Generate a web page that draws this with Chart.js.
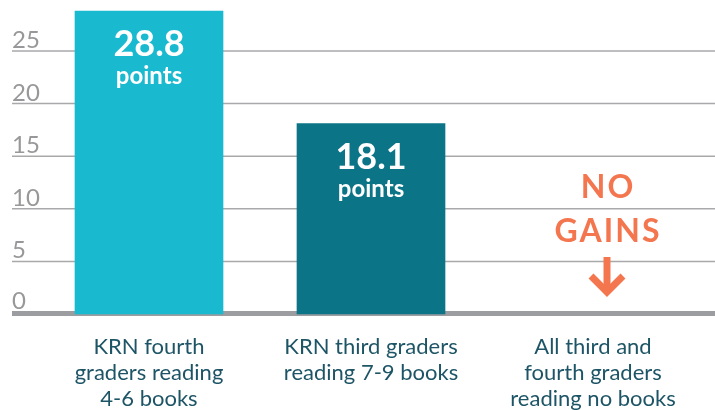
<!DOCTYPE html>
<html>
<head>
<meta charset="utf-8">
<script src="https://cdn.jsdelivr.net/npm/chart.js@4.4.1/dist/chart.umd.min.js"></script>
<style>
    html, body { margin: 0; padding: 0; background: #ffffff; }
    #wrap { width: 715px; height: 410px; position: relative; }
</style>
</head>
<body>
<div id="wrap"><canvas id="barChart"></canvas></div>
<script>
// Reading gains by group (points)
const categoryLabels = [
    ["KRN fourth", "graders reading", "4-6 books"],
    ["KRN third graders", "reading 7-9 books"],
    ["All third and", "fourth graders", "reading no books"],
];
const pointGains = [28.8, 18.1, 0];
const gainLabels = ["28.8", "18.1", ""];
const unitLabel = "points";
const yTicks = [0, 5, 10, 15, 20, 25];
const noGainsText = ["NO", "GAINS"];
const noGainsIndex = 2;

const barColors = ["#19b9d0", "#0b7487", "rgba(0,0,0,0)"];
const gridColor = "#a9a9ab";
const baseColor = "#9c9da1";
const tickColor = "#98989a";
const orange = "#f4764f";

// full-width grid lines + y labels sitting above them, plus bar annotations
const annotatePlugin = {
    id: "annotate",
    beforeDatasetsDraw(chart) {
        const ctx = chart.ctx;
        const y = chart.scales.y;
        ctx.save();
        yTicks.forEach(function (v) {
            const py = y.getPixelForValue(v);
            if (v === 0) {
                ctx.fillStyle = baseColor;
                ctx.fillRect(12, py - 3, 703, 5);
            } else {
                ctx.strokeStyle = gridColor;
                ctx.lineWidth = 1.5;
                ctx.beginPath();
                ctx.moveTo(12, py);
                ctx.lineTo(715, py);
                ctx.stroke();
            }
            ctx.fillStyle = tickColor;
            ctx.font = "24px Lato";
            ctx.textAlign = "left";
            ctx.textBaseline = "alphabetic";
            ctx.fillText(String(v), 12, py - (v === 0 ? 5 : 3));
        });
        ctx.restore();
    },
    afterDatasetsDraw(chart) {
        const ctx = chart.ctx;
        const meta = chart.getDatasetMeta(0);
        ctx.save();
        ctx.textAlign = "center";
        ctx.textBaseline = "alphabetic";
        ctx.fillStyle = "#ffffff";
        meta.data.forEach(function (bar, i) {
            if (!gainLabels[i]) return;
            ctx.font = "bold 36px Lato";
            ctx.fillText(gainLabels[i], bar.x, bar.y + 45);
            ctx.font = "bold 24px Lato";
            ctx.fillText(unitLabel, bar.x, bar.y + 73);
        });

        // "NO GAINS" with a down arrow
        const x = chart.scales.x.getPixelForValue(noGainsIndex) + 14;
        const y0 = chart.scales.y.getPixelForValue(0);
        ctx.fillStyle = orange;
        ctx.font = "bold 32px Lato";
        ctx.letterSpacing = "2px";
        ctx.fillText(noGainsText[0], x + 1, y0 - 116);
        ctx.fillText(noGainsText[1], x + 1, y0 - 72);
        ctx.letterSpacing = "0px";
        ctx.strokeStyle = orange;
        ctx.lineWidth = 7;
        ctx.lineCap = "butt";
        ctx.lineJoin = "miter";
        ctx.beginPath();
        ctx.moveTo(x, y0 - 57);
        ctx.lineTo(x, y0 - 22);
        ctx.stroke();
        ctx.beginPath();
        ctx.moveTo(x - 16, y0 - 38);
        ctx.lineTo(x, y0 - 22);
        ctx.lineTo(x + 16, y0 - 38);
        ctx.stroke();
        ctx.restore();
    },
};

document.addEventListener("DOMContentLoaded", function () {
    const ctxBar = document.getElementById("barChart").getContext("2d");

    const barData = {
        labels: categoryLabels,
        datasets: [
            {
                data: pointGains,
                backgroundColor: barColors,
                borderWidth: 0,
                barThickness: 148,
                clip: false,
            },
        ],
    };

    const barConfig = {
        type: "bar",
        data: barData,
        plugins: [annotatePlugin],
        options: {
            responsive: true,
            maintainAspectRatio: false,
            animation: false,
            layout: {
                padding: { left: 149, right: 122, top: 0, bottom: 0 },
            },
            plugins: {
                legend: { display: false },
                tooltip: { enabled: false },
            },
            scales: {
                x: {
                    offset: false,
                    grid: { display: false, drawTicks: false },
                    border: { display: false },
                    ticks: {
                        autoSkip: false,
                        maxRotation: 0,
                        padding: 20,
                        color: "#1d5566",
                        font: { family: "Lato", size: 22, lineHeight: 1.18 },
                    },
                    afterFit: function (scale) {
                        scale.height = 96;
                    },
                },
                y: {
                    display: false,
                    min: 0,
                    max: 29.85,
                },
            },
        },
    };

    const barChart = new Chart(ctxBar, barConfig);
});
</script>
</body>
</html>
